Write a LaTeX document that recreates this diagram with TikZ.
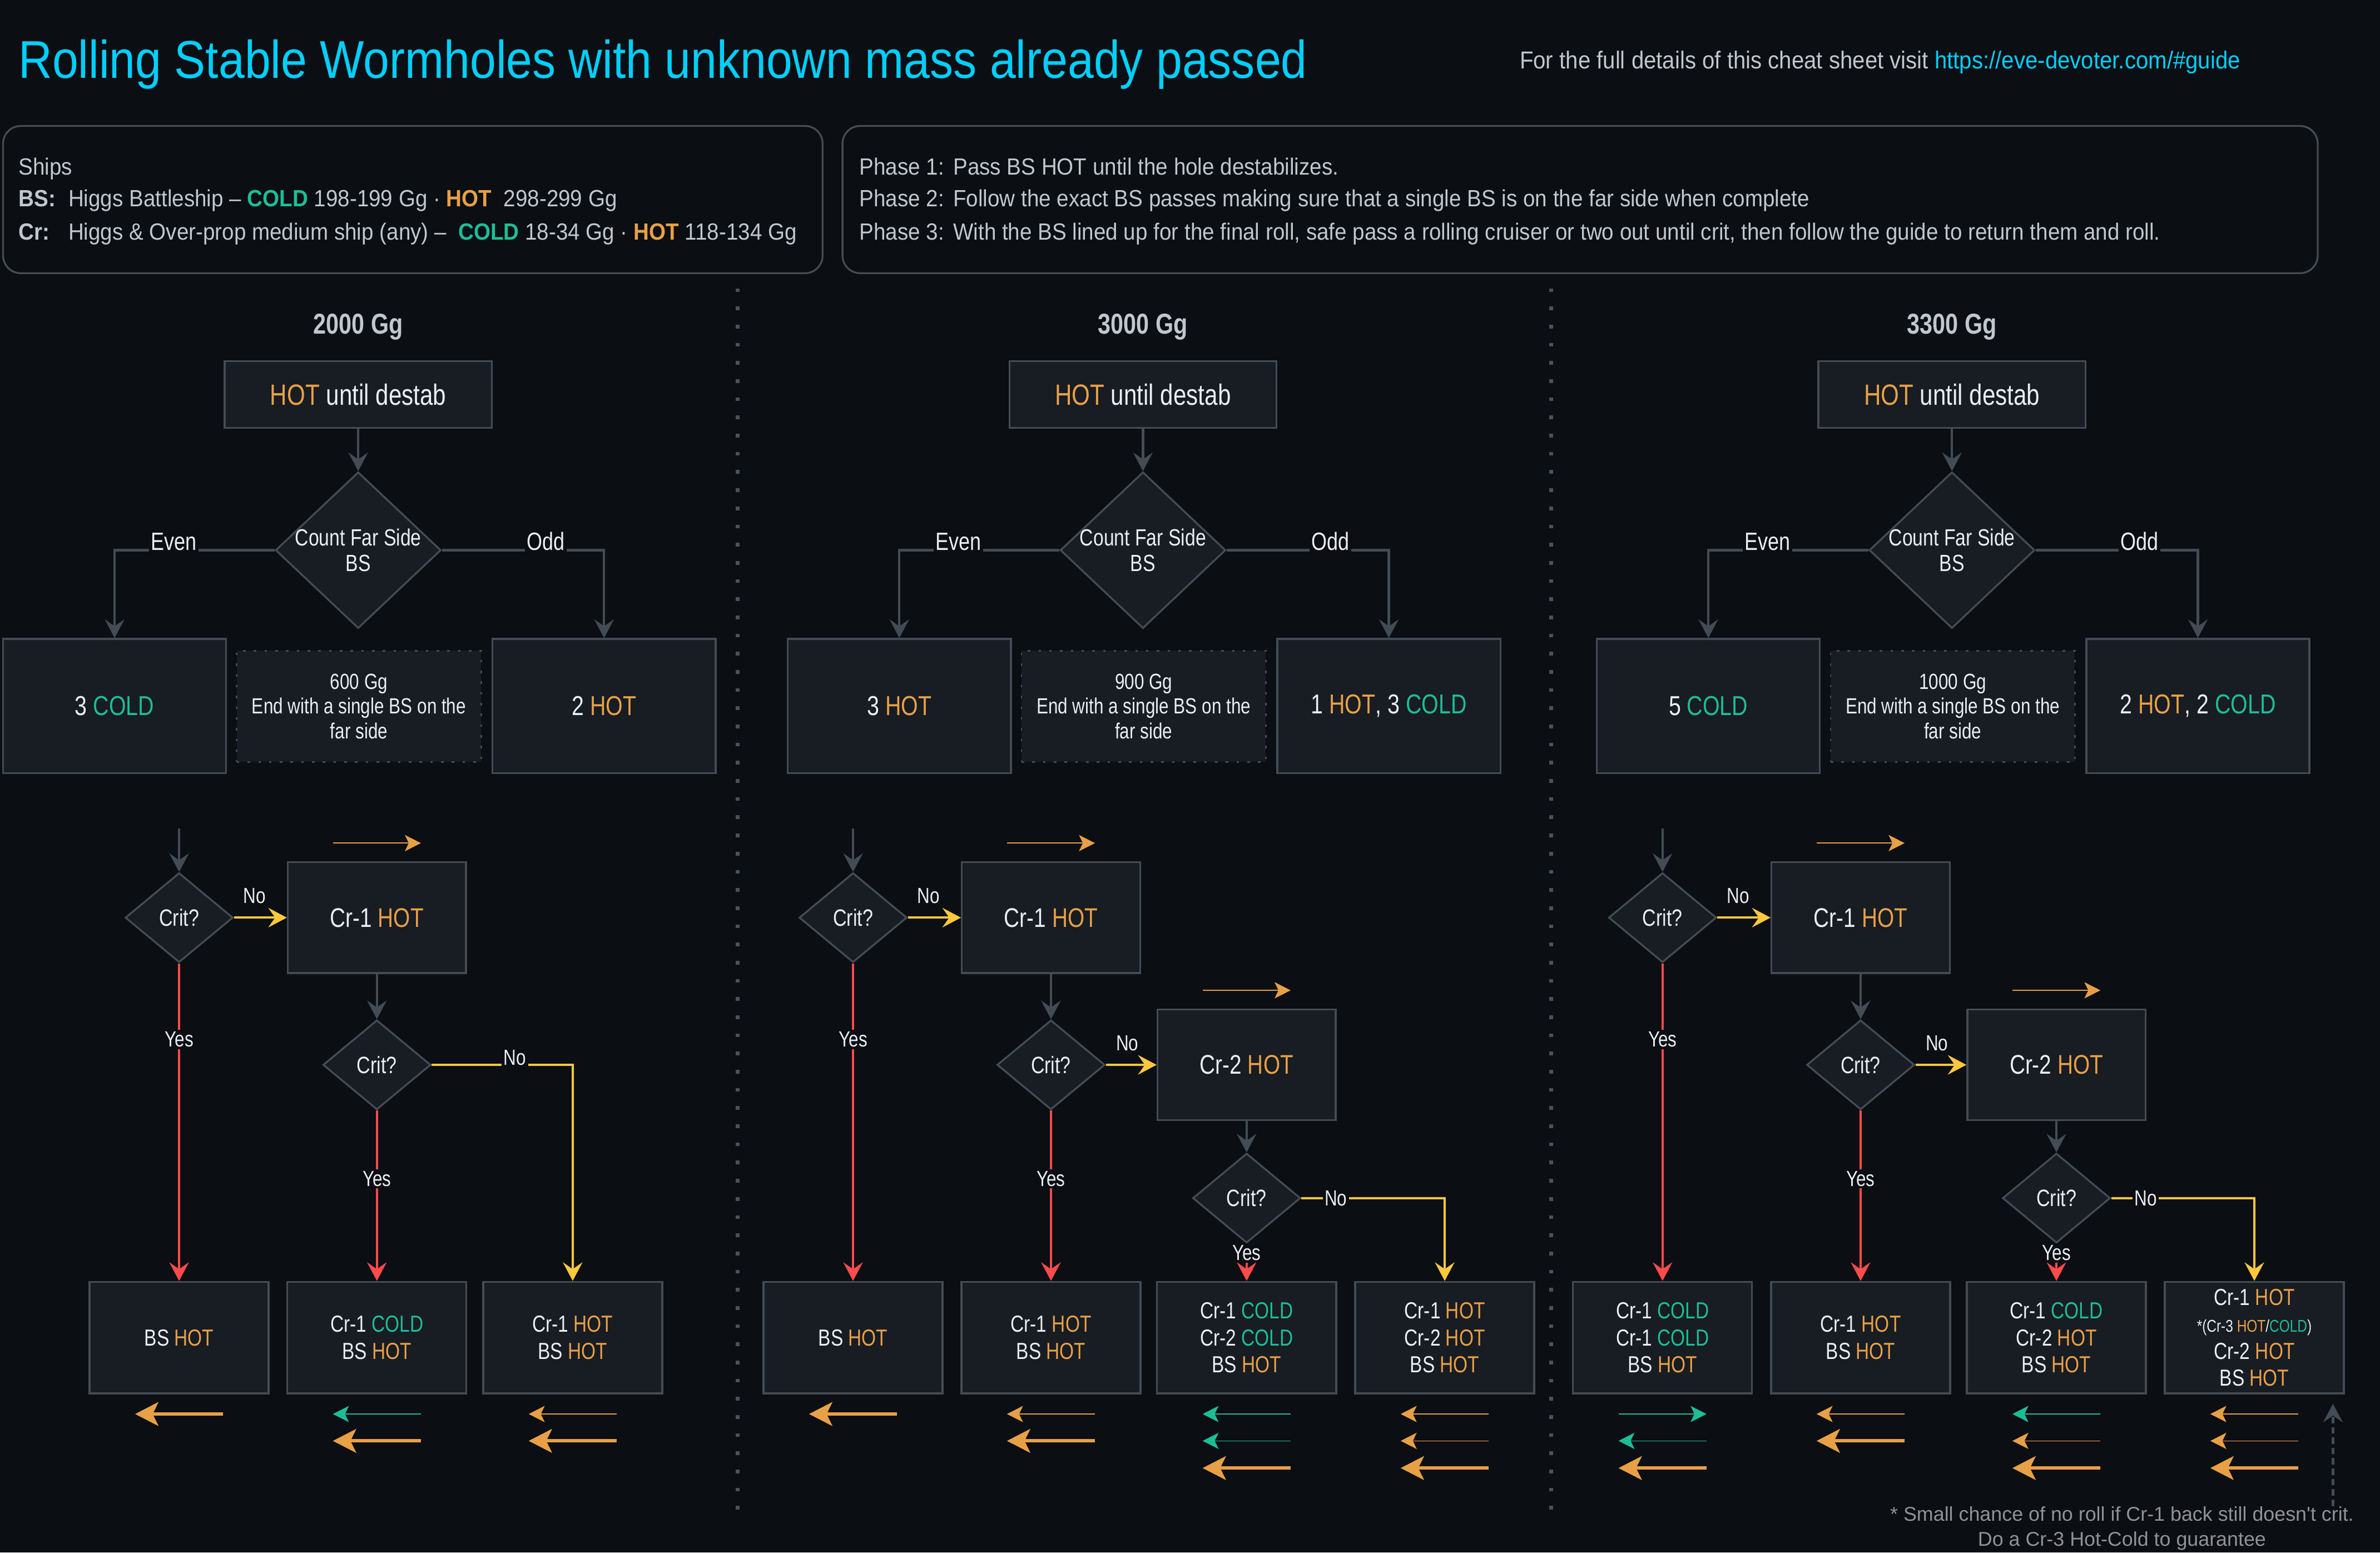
\documentclass[tikz,border=0pt]{standalone}
\usepackage{fontspec}
\setmainfont{Liberation Sans}[FakeStretch=0.88]
\newfontfamily\infofont{Liberation Sans}[FakeStretch=0.915]
\newfontfamily\condfont{Liberation Sans}[FakeStretch=0.8]
\newfontfamily\notefont{Liberation Sans}
\usetikzlibrary{arrows.meta, shapes.geometric, positioning, calc}

\definecolor{bgc}{HTML}{0B0E13}
\definecolor{boxc}{HTML}{181C23}
\definecolor{linec}{HTML}{434C55}
\definecolor{sepc}{HTML}{4A525A}
\definecolor{txtc}{HTML}{EBEEF2}
\definecolor{softc}{HTML}{BFC8CC}
\definecolor{notec}{HTML}{8E9398}
\definecolor{hotc}{HTML}{E8A046}
\definecolor{coldc}{HTML}{1CBE96}
\definecolor{titlec}{HTML}{00CFFF}
\definecolor{yesc}{HTML}{FF4B4B}
\definecolor{noc}{HTML}{FFC83D}

\newcommand{\HOT}{\textcolor{hotc}{HOT}}
\newcommand{\COLD}{\textcolor{coldc}{COLD}}
\newcommand{\dpx}{0.7766pt}

\begin{document}
\begin{tikzpicture}[x=0.027296cm, y=-0.027296cm,
  basebox/.style={draw=linec, line width=0.95pt, fill=boxc, text=txtc, align=center, inner sep=0pt},
  topbox/.style={basebox, minimum width=176*\dpx, minimum height=44*\dpx, font=\condfont\fontsize{15}{17}\selectfont},
  countdia/.style={basebox, diamond, inner sep=-4pt, minimum width=109*\dpx, minimum height=103*\dpx, font=\condfont\fontsize{12}{13.2}\selectfont},
  bigbox/.style={basebox, minimum width=147*\dpx, minimum height=88.5*\dpx, font=\condfont\fontsize{14}{16}\selectfont},
  midbox/.style={basebox, line width=0.8pt, dash pattern=on 1.3pt off 4.2pt, minimum width=161*\dpx, minimum height=73.3*\dpx, font=\condfont\fontsize{11.2}{12.7}\selectfont},
  crit/.style={basebox, diamond, minimum width=71*\dpx, minimum height=59*\dpx, font=\condfont\fontsize{12.1}{14}\selectfont},
  crbox/.style={basebox, minimum width=117.4*\dpx, minimum height=73*\dpx, font=\condfont\fontsize{13.8}{16}\selectfont},
  endbox/.style={basebox, minimum width=118*\dpx, minimum height=73.5*\dpx, font=\condfont\fontsize{11.9}{13.7}\selectfont},
  gghead/.style={text=softc, font=\condfont\bfseries\fontsize{14.7}{17}\selectfont},
  info/.style={text=softc, inner sep=0pt, font=\infofont\fontsize{12}{14}\selectfont},
  infobox/.style={draw=linec, line width=0.95pt, rounded corners=9pt},
  lbl/.style={fill=bgc, text=txtc, inner sep=1pt, font=\condfont\fontsize{11.2}{13}\selectfont},
  biglbl/.style={lbl, font=\condfont\fontsize{12.8}{14}\selectfont},
  flowtip/.style={-{Stealth[length=9.5pt, width=10pt, inset=3.5pt]}},
  flow/.style={draw=linec, line width=1.2pt, flowtip},
  yesline/.style={draw=yesc, line width=1.2pt, flowtip},
  noline/.style={draw=noc, line width=1.2pt, flowtip},
  thinhot/.style={draw=hotc, line width=0.45pt, -{Stealth[length=8.2pt, width=8.3pt, inset=2pt]}},
  thincold/.style={draw=coldc, line width=0.45pt, -{Stealth[length=8.2pt, width=8.3pt, inset=2pt]}},
  thickhot/.style={draw=hotc, line width=1.7pt, -{Stealth[length=11.9pt, width=12.1pt, inset=2.9pt]}},
  sepline/.style={draw=sepc, line width=2pt, dash pattern=on 1.9pt off 7.4pt}
]

\useasboundingbox (0,0) rectangle (1568,1023);
\fill[bgc] (0,0) rectangle (1568,1023);

% Title and link
\node[anchor=base west, inner sep=0pt, text=titlec, font=\fontsize{27.2}{30}\selectfont] (title) at (12,51.3)
  {Rolling Stable Wormholes with unknown mass already passed};
\node[info, anchor=base west, font=\infofont\fontsize{12.5}{14}\selectfont] (link) at (1001,45.4)
  {For the full details of this cheat sheet visit \textcolor{titlec}{https://eve-devoter.com/\#guide}};

% Ships
\node[infobox, minimum width=540*\dpx, minimum height=97*\dpx] (shipbox) at (272,131.5) {};
\node[info, anchor=base west] (shipt) at (12,115.4) {Ships};
\node[info, anchor=base west] (bst) at (12,136.2)
  {\makebox[25.5pt][l]{\bfseries BS:}Higgs Battleship – {\bfseries\COLD} 198-199 Gg · {\bfseries\HOT}\ \ 298-299 Gg};
\node[info, anchor=base west] (crt) at (12,158.2)
  {\makebox[25.5pt][l]{\bfseries Cr:}Higgs \& Over-prop medium ship (any) –\ \ {\bfseries\COLD} 18-34 Gg · {\bfseries\HOT} 118-134 Gg};

% Phases
\node[infobox, minimum width=972*\dpx, minimum height=97*\dpx] (phasebox) at (1041,131.5) {};
\node[info, anchor=base west] (ph1) at (566,115.4) {\makebox[48pt][l]{Phase 1:}Pass BS HOT until the hole destabilizes.};
\node[info, anchor=base west] (ph2) at (566,136.2) {\makebox[48pt][l]{Phase 2:}Follow the exact BS passes making sure that a single BS is on the far side when complete};
\node[info, anchor=base west] (ph3) at (566,158.2) {\makebox[48pt][l]{Phase 3:}With the BS lined up for the final roll, safe pass a rolling cruiser or two out until crit, then follow the guide to return them and roll.};

% Separators
\draw[sepline] (486,190) -- (486,1000);
\draw[sepline] (1022,190) -- (1022,1000);

% 2000 Gg
\node[gghead, anchor=base] (gga) at (236,220) {2000 Gg};
\node[topbox] (topa) at (236,260) {\HOT\ until destab};
\node[countdia] (cnta) at (236,362.5) {Count Far Side\\BS};
\node[bigbox] (lefta) at (75.5,465.2) {3 \COLD};
\node[midbox] (mida) at (236.5,465.4) {600 Gg\\End with a single BS on the\\far side};
\node[bigbox] (righta) at (398,465.2) {2 \HOT};
\draw[flow] (topa) -- (cnta);
\draw[flow] (cnta) -| node[biglbl, pos=0.315, anchor=base]{Even} (lefta);
\draw[flow] (cnta) -| node[biglbl, pos=0.32, anchor=base]{Odd} (righta);

% 3000 Gg
\node[gghead, anchor=base] (ggb) at (753,220) {3000 Gg};
\node[topbox] (topb) at (753,260) {\HOT\ until destab};
\node[countdia] (cntb) at (753,362.5) {Count Far Side\\BS};
\node[bigbox] (leftb) at (592.5,465.2) {3 \HOT};
\node[midbox] (midb) at (753.5,465.4) {900 Gg\\End with a single BS on the\\far side};
\node[bigbox] (rightb) at (915,465.2) {1 \HOT, 3 \COLD};
\draw[flow] (topb) -- (cntb);
\draw[flow] (cntb) -| node[biglbl, pos=0.315, anchor=base]{Even} (leftb);
\draw[flow] (cntb) -| node[biglbl, pos=0.32, anchor=base]{Odd} (rightb);

% 3300 Gg
\node[gghead, anchor=base] (ggc) at (1286,220) {3300 Gg};
\node[topbox] (topc) at (1286,260) {\HOT\ until destab};
\node[countdia] (cntc) at (1286,362.5) {Count Far Side\\BS};
\node[bigbox] (leftc) at (1125.5,465.2) {5 \COLD};
\node[midbox] (midc) at (1286.5,465.4) {1000 Gg\\End with a single BS on the\\far side};
\node[bigbox] (rightc) at (1448,465.2) {2 \HOT, 2 \COLD};
\draw[flow] (topc) -- (cntc);
\draw[flow] (cntc) -| node[biglbl, pos=0.315, anchor=base]{Even} (leftc);
\draw[flow] (cntc) -| node[biglbl, pos=0.32, anchor=base]{Odd} (rightc);

% 2000 Gg roll
\coordinate (ina) at (118,546);
\node[crit] (qa1) at (118,604.6) {Crit?};
\node[crbox] (cra1) at (248.3,604.6) {Cr-1 \HOT};
\node[crit] (qa2) at (248.3,701.6) {Crit?};
\node[endbox] (ea1) at (118,881.3) {BS \HOT};
\node[endbox] (ea2) at (248.3,881.3) {Cr-1 \COLD\\BS \HOT};
\node[endbox] (ea3) at (377.3,881.3) {Cr-1 \HOT\\BS \HOT};
\draw[flow] (ina) -- (qa1);
\draw[noline] (qa1) -- node[lbl, above=5.5pt, xshift=-3pt]{No} (cra1);
\draw[flow] (cra1) -- (qa2);
\draw[yesline] (qa1) -- node[lbl, pos=0.24]{Yes} (ea1);
\draw[yesline] (qa2) -- node[lbl, pos=0.4]{Yes} (ea2);
\draw[noline] (qa2) -| node[lbl, pos=0.295, anchor=base]{No} (ea3);
\draw[thinhot] ($(cra1.north)+(-29,-12)$) -- ++(58,0);
\draw[thickhot] ($(ea1.south)+(29,13)$) -- ++(-58,0);
\draw[thincold] ($(ea2.south)+(29,13)$) -- ++(-58,0);
\draw[thickhot] ($(ea2.south)+(29,30.7)$) -- ++(-58,0);
\draw[thinhot] ($(ea3.south)+(29,13)$) -- ++(-58,0);
\draw[thickhot] ($(ea3.south)+(29,30.7)$) -- ++(-58,0);

% 3000 Gg roll
\coordinate (inb) at (562,546);
\node[crit] (qb1) at (562,604.6) {Crit?};
\node[crbox] (crb1) at (692.4,604.6) {Cr-1 \HOT};
\node[crit] (qb2) at (692.4,701.6) {Crit?};
\node[crbox] (crb2) at (821.3,701.6) {Cr-2 \HOT};
\node[crit] (qb3) at (821.3,789.4) {Crit?};
\node[endbox] (eb1) at (562,881.3) {BS \HOT};
\node[endbox] (eb2) at (692.4,881.3) {Cr-1 \HOT\\BS \HOT};
\node[endbox] (eb3) at (821.3,881.3) {Cr-1 \COLD\\Cr-2 \COLD\\BS \HOT};
\node[endbox] (eb4) at (951.8,881.3) {Cr-1 \HOT\\Cr-2 \HOT\\BS \HOT};
\draw[flow] (inb) -- (qb1);
\draw[noline] (qb1) -- node[lbl, above=5.5pt, xshift=-3pt]{No} (crb1);
\draw[flow] (crb1) -- (qb2);
\draw[noline] (qb2) -- node[lbl, above=5.5pt, xshift=-2pt]{No} (crb2);
\draw[flow] (crb2) -- (qb3);
\draw[yesline] (qb1) -- node[lbl, pos=0.24]{Yes} (eb1);
\draw[yesline] (qb2) -- node[lbl, pos=0.4]{Yes} (eb2);
\draw[yesline] (qb3) -- node[lbl, pos=0.25]{Yes} (eb3);
\draw[noline] (qb3) -| node[lbl, pos=0.12]{No} (eb4);
\draw[thinhot] ($(crb1.north)+(-29,-12)$) -- ++(58,0);
\draw[thinhot] ($(crb2.north)+(-29,-12)$) -- ++(58,0);
\draw[thickhot] ($(eb1.south)+(29,13)$) -- ++(-58,0);
\draw[thinhot] ($(eb2.south)+(29,13)$) -- ++(-58,0);
\draw[thickhot] ($(eb2.south)+(29,30.7)$) -- ++(-58,0);
\draw[thincold] ($(eb3.south)+(29,13)$) -- ++(-58,0);
\draw[thincold] ($(eb3.south)+(29,30.7)$) -- ++(-58,0);
\draw[thickhot] ($(eb3.south)+(29,48.6)$) -- ++(-58,0);
\draw[thinhot] ($(eb4.south)+(29,13)$) -- ++(-58,0);
\draw[thinhot] ($(eb4.south)+(29,30.7)$) -- ++(-58,0);
\draw[thickhot] ($(eb4.south)+(29,48.6)$) -- ++(-58,0);

% 3300 Gg roll
\coordinate (inc) at (1095.3,546);
\node[crit] (qc1) at (1095.3,604.6) {Crit?};
\node[crbox] (crc1) at (1225.8,604.6) {Cr-1 \HOT};
\node[crit] (qc2) at (1225.8,701.6) {Crit?};
\node[crbox] (crc2) at (1354.8,701.6) {Cr-2 \HOT};
\node[crit] (qc3) at (1354.8,789.4) {Crit?};
\node[endbox] (ec1) at (1095.3,881.3) {Cr-1 \COLD\\Cr-1 \COLD\\BS \HOT};
\node[endbox] (ec2) at (1225.8,881.3) {Cr-1 \HOT\\BS \HOT};
\node[endbox] (ec3) at (1354.8,881.3) {Cr-1 \COLD\\Cr-2 \HOT\\BS \HOT};
\node[endbox] (ec4) at (1485.2,881.3)
  {Cr-1 \HOT\\{\fontsize{8.7}{13.7}\selectfont *(Cr-3 \HOT/\COLD)}\\Cr-2 \HOT\\BS \HOT};
\draw[flow] (inc) -- (qc1);
\draw[noline] (qc1) -- node[lbl, above=5.5pt, xshift=-3pt]{No} (crc1);
\draw[flow] (crc1) -- (qc2);
\draw[noline] (qc2) -- node[lbl, above=5.5pt, xshift=-2pt]{No} (crc2);
\draw[flow] (crc2) -- (qc3);
\draw[yesline] (qc1) -- node[lbl, pos=0.24]{Yes} (ec1);
\draw[yesline] (qc2) -- node[lbl, pos=0.4]{Yes} (ec2);
\draw[yesline] (qc3) -- node[lbl, pos=0.25]{Yes} (ec3);
\draw[noline] (qc3) -| node[lbl, pos=0.12]{No} (ec4);
\draw[thinhot] ($(crc1.north)+(-29,-12)$) -- ++(58,0);
\draw[thinhot] ($(crc2.north)+(-29,-12)$) -- ++(58,0);
\draw[thincold] ($(ec1.south)+(-29,13)$) -- ++(58,0);
\draw[thincold] ($(ec1.south)+(29,30.7)$) -- ++(-58,0);
\draw[thickhot] ($(ec1.south)+(29,48.6)$) -- ++(-58,0);
\draw[thinhot] ($(ec2.south)+(29,13)$) -- ++(-58,0);
\draw[thickhot] ($(ec2.south)+(29,30.7)$) -- ++(-58,0);
\draw[thincold] ($(ec3.south)+(29,13)$) -- ++(-58,0);
\draw[thinhot] ($(ec3.south)+(29,30.7)$) -- ++(-58,0);
\draw[thickhot] ($(ec3.south)+(29,48.6)$) -- ++(-58,0);
\draw[thinhot] ($(ec4.south)+(29,13)$) -- ++(-58,0);
\draw[thinhot] ($(ec4.south)+(29,30.7)$) -- ++(-58,0);
\draw[thickhot] ($(ec4.south)+(29,48.6)$) -- ++(-58,0);

% Footnote
\coordinate (dashfoot) at (1537,992.3);
\coordinate (dashtip) at (1537,924.9);
\draw[flow, dash pattern=on 3.3pt off 2pt] (dashfoot) -- (dashtip);
\node[anchor=base, align=center, inner sep=0pt, text=notec, font=\notefont\fontsize{10.2}{12.6}\selectfont] (foot) at (1398,1018.5)
  {* Small chance of no roll if Cr-1 back still doesn't crit.\\Do a Cr-3 Hot-Cold to guarantee};

\end{tikzpicture}
\end{document}
